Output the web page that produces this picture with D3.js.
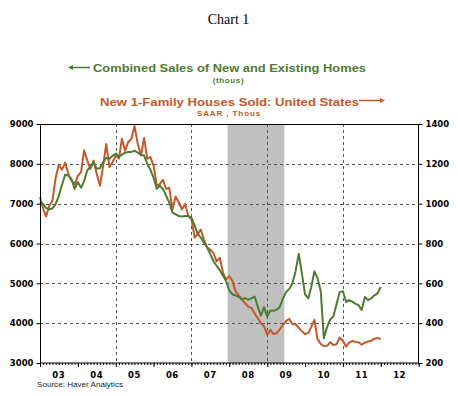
<!DOCTYPE html>
<html>
<head>
<meta charset="utf-8">
<script src="https://cdn.jsdelivr.net/npm/d3@7"></script>
<style>
  body { margin: 0; background: #fff; }
  svg { display: block; }
</style>
</head>
<body>
<svg id="chart" width="457" height="397"></svg>
<script>
// monthly, Jan 2003 .. Jan 2012
let startMonth = new Date(2003, 0, 1)

// Combined sales of new and existing homes (thous) - left axis
let combinedSales = [
  7050, 6990, 6890, 6860, 6880, 6990, 7190, 7470, 7730, 7700, 7620, 7370,
  7540, 7400, 7560, 7840, 7920, 8040, 7880, 7890, 8050, 8150, 8130, 8200,
  8260, 8180, 8230, 8280, 8300, 8300, 8330, 8280, 8230, 8210, 8000, 7850,
  7650, 7370, 7450, 7370, 7200, 7030, 6780, 6730, 6690, 6680, 6690, 6690,
  6650, 6450, 6250, 6150, 6020, 5900, 5740, 5560, 5440, 5330, 5200, 5050,
  4820, 4720, 4700, 4660, 4600, 4630, 4590, 4620, 4670, 4420, 4190, 4400,
  4170, 4320, 4310, 4340, 4400, 4610, 4780, 4860, 5000, 5300, 5740, 5250,
  4720, 4620, 4900, 5300, 5130, 4800, 3620, 3900, 4100, 4170, 4480, 4780,
  4800, 4530, 4580, 4540, 4490, 4450, 4330, 4660, 4580, 4620, 4700, 4750,
  4910
]

// New 1-family houses sold, SAAR thous - right axis
let newHomeSales = [
  1032, 974, 936, 990, 1016, 1130, 1196, 1170, 1206, 1150, 1116, 1096,
  1140, 1158, 1268, 1216, 1174, 1216, 1150, 1090, 1190, 1300, 1184, 1208,
  1242, 1226, 1326, 1266, 1310, 1326, 1390, 1300, 1242, 1330, 1226, 1234,
  1190, 1090, 1098, 1120, 1074, 1080, 972, 1036, 1006, 972, 998, 938,
  922, 830, 846, 870, 820, 780, 770, 752, 710, 728, 654, 620,
  636, 610, 560, 540, 520, 500, 484, 476, 450, 426, 400, 384,
  342, 366, 346, 350, 368, 390, 410, 422, 394, 396, 376, 360,
  346, 350, 380, 417, 320, 296, 284, 286, 304, 290, 294, 328,
  312, 282, 302, 310, 306, 304, 292, 302, 308, 312, 322, 326,
  320
]

let leftTicks = [3000, 4000, 5000, 6000, 7000, 8000, 9000]
let rightTicks = [200, 400, 600, 800, 1000, 1200, 1400]
let yearLabels = ["03", "04", "05", "06", "07", "08", "09", "10", "11", "12"]
let gridYears = [2005, 2007, 2009, 2011]
let recession = [new Date(2007, 11, 15), new Date(2009, 5, 15)]

let green = "#4d7c30"
let orange = "#c4582a"

let svg = d3.select("#chart")

let x = d3.scaleTime()
  .domain([new Date(2003, 0, 1), new Date(2013, 0, 1)])
  .range([40, 418.7])
let yL = d3.scaleLinear().domain([3000, 9000]).range([363, 124])
let yR = d3.scaleLinear().domain([200, 1400]).range([363, 124])

let monthDate = i => d3.timeMonth.offset(startMonth, i)

// titles
svg.append("text").attr("x", 228.5).attr("y", 24)
  .attr("text-anchor", "middle")
  .style("font", "14px 'Liberation Serif', serif")
  .text("Chart 1")

let legend = svg.append("g").style("font-family", "'Liberation Sans', Arial, sans-serif").style("font-weight", "bold")

legend.append("text").attr("x", 93).attr("y", 72)
  .attr("textLength", 273).attr("lengthAdjust", "spacingAndGlyphs")
  .style("font-size", "11.5px").attr("fill", green)
  .text("Combined Sales of New and Existing Homes")
legend.append("text").attr("x", 228.5).attr("y", 83)
  .attr("text-anchor", "middle")
  .style("font-size", "8px").style("letter-spacing", "0.6px").attr("fill", green)
  .text("(thous)")

legend.append("text").attr("x", 100).attr("y", 106)
  .attr("textLength", 259).attr("lengthAdjust", "spacingAndGlyphs")
  .style("font-size", "11.5px").attr("fill", orange)
  .text("New 1-Family Houses Sold: United States")
legend.append("text").attr("x", 229).attr("y", 116)
  .attr("text-anchor", "middle")
  .style("font-size", "8px").style("letter-spacing", "0.9px").attr("fill", orange)
  .text("SAAR , Thous")

// arrows
legend.append("line").attr("x1", 70).attr("x2", 90).attr("y1", 67.5).attr("y2", 67.5)
  .attr("stroke", green).attr("stroke-width", 1.5)
legend.append("path").attr("d", "M68,67.5 L73,65 L73,70 Z").attr("fill", green)
legend.append("line").attr("x1", 359).attr("x2", 382).attr("y1", 100.5).attr("y2", 100.5)
  .attr("stroke", orange).attr("stroke-width", 1.5)
legend.append("path").attr("d", "M385,100.5 L380,98 L380,103 Z").attr("fill", orange)

// recession shading
svg.append("rect")
  .attr("x", x(recession[0])).attr("y", 124)
  .attr("width", x(recession[1]) - x(recession[0])).attr("height", 363 - 124)
  .attr("fill", "#c0c0c0")

// grid
let grid = svg.append("g").attr("stroke", "#555").attr("stroke-width", 1).attr("stroke-dasharray", "3,3")
grid.selectAll(".h").data(leftTicks.slice(1, -1)).join("line")
  .attr("x1", 40).attr("x2", 418.7)
  .attr("y1", d => Math.round(yL(d)) + 0.5).attr("y2", d => Math.round(yL(d)) + 0.5)
grid.selectAll(".v").data(gridYears).join("line")
  .attr("x1", d => Math.round(x(new Date(d, 0, 1))) + 0.5).attr("x2", d => Math.round(x(new Date(d, 0, 1))) + 0.5)
  .attr("y1", 124).attr("y2", 363)

// lines
let lineL = d3.line().x((d, i) => x(monthDate(i))).y(d => yL(d))
let lineR = d3.line().x((d, i) => x(monthDate(i))).y(d => yR(d))

svg.append("path").datum(newHomeSales).attr("d", lineR)
  .attr("fill", "none").attr("stroke", orange).attr("stroke-width", 2).attr("stroke-linejoin", "round")
svg.append("path").datum(combinedSales).attr("d", lineL)
  .attr("fill", "none").attr("stroke", green).attr("stroke-width", 2).attr("stroke-linejoin", "round")

// frame
svg.append("rect").attr("x", 40.5).attr("y", 124.5).attr("width", 378).attr("height", 238.5)
  .attr("fill", "none").attr("stroke", "#000")

let axisFont = "bold 8.5px 'DejaVu Sans', Verdana, sans-serif"

// left axis
let left = svg.append("g").attr("transform", "translate(40.5,0)")
  .call(d3.axisLeft(yL).tickValues(leftTicks).tickSize(4).tickPadding(3).tickFormat(d3.format("d")))
left.select(".domain").remove()
left.selectAll("text").style("font", axisFont).attr("fill", "#000")

// right axis
let right = svg.append("g").attr("transform", "translate(418.5,0)")
  .call(d3.axisRight(yR).tickValues(rightTicks).tickSize(4).tickPadding(3).tickFormat(d3.format("d")))
right.select(".domain").remove()
right.selectAll("text").style("font", axisFont).attr("fill", "#000")

// bottom axis: month minor ticks, year major ticks
let bottom = svg.append("g").attr("transform", "translate(0,363)")
bottom.append("g")
  .call(d3.axisBottom(x).ticks(d3.timeMonth.every(1)).tickSize(2).tickFormat(""))
  .select(".domain").remove()
bottom.append("g")
  .call(d3.axisBottom(x).ticks(d3.timeYear.every(1)).tickSize(4).tickFormat(""))
  .select(".domain").remove()

bottom.selectAll(".yl").data(yearLabels).join("text")
  .attr("x", (d, i) => x(new Date(2003 + i, 6, 1)))
  .attr("y", 15)
  .attr("text-anchor", "middle")
  .style("font", axisFont).style("letter-spacing", "0.5px")
  .text(d => d)

svg.append("text").attr("x", 37).attr("y", 387)
  .attr("textLength", 86).attr("lengthAdjust", "spacingAndGlyphs")
  .style("font", "8px 'Liberation Sans', Arial, sans-serif").attr("fill", "#222")
  .text("Source: Haver Analytics")
</script>
</body>
</html>
